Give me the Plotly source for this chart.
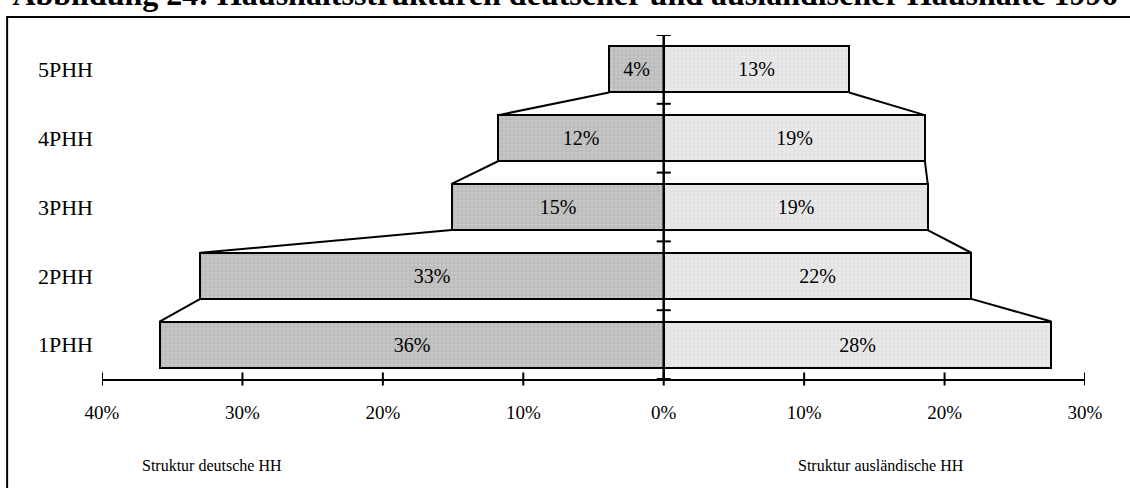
import plotly.graph_objects as go

# Household structure by household size (share of households, %)
categories = ["1PHH", "2PHH", "3PHH", "4PHH", "5PHH"]
deutsche = [35.9, 33.0, 15.1, 11.8, 3.9]        # German households
auslaendische = [27.6, 21.9, 18.8, 18.6, 13.2]  # foreign households

tick_vals = [-40, -30, -20, -10, 0, 10, 20, 30]
tick_text = ["40%", "30%", "20%", "10%", "0%", "10%", "20%", "30%"]

title_text = "Abbildung 24: Haushaltsstrukturen deutscher und ausländischer Haushalte 1996"
label_left = "Struktur deutsche HH"
label_right = "Struktur ausländische HH"

FONT = "Liberation Serif, Times New Roman, serif"
BAR_W = 0.67
pos = list(range(len(categories)))

fig = go.Figure()

fig.add_trace(go.Bar(
    y=pos, x=[-v for v in deutsche], orientation="h", width=BAR_W,
    marker=dict(color="#bdbdbd", line=dict(color="black", width=2),
                pattern=dict(shape=".", fgcolor="#d6d6d6", bgcolor="#bdbdbd",
                             size=4, solidity=0.25)),
    text=[f"{v:.0f}%" for v in deutsche], textposition="inside",
    insidetextanchor="middle", textangle=0,
    textfont=dict(family=FONT, size=20, color="black"),
    hoverinfo="skip", showlegend=False,
))
fig.add_trace(go.Bar(
    y=pos, x=auslaendische, orientation="h", width=BAR_W,
    marker=dict(color="#e6e6e6", line=dict(color="black", width=2),
                pattern=dict(shape=".", fgcolor="#f2f2f2", bgcolor="#e4e4e4",
                             size=4, solidity=0.25)),
    text=[f"{v:.0f}%" for v in auslaendische], textposition="inside",
    insidetextanchor="middle", textangle=0,
    textfont=dict(family=FONT, size=20, color="black"),
    hoverinfo="skip", showlegend=False,
))

# Series lines joining the bar ends of neighbouring categories
def connector(values, sign):
    xs, ys = [], []
    for k in range(1, len(values)):
        xs += [sign * values[k], sign * values[k - 1], None]
        ys += [k - BAR_W / 2, k - 1 + BAR_W / 2, None]
    return xs, ys

for vals, sgn in ((deutsche, -1), (auslaendische, 1)):
    cx, cy = connector(vals, sgn)
    fig.add_trace(go.Scatter(x=cx, y=cy, mode="lines",
                             line=dict(color="black", width=2),
                             hoverinfo="skip", showlegend=False))

shapes = []
# vertical axis at 0 with cross ticks at the category boundaries
shapes.append(dict(type="line", xref="x", yref="y", x0=0, x1=0,
                   y0=-0.5, y1=len(categories) - 0.5,
                   line=dict(color="black", width=2.5), layer="above"))
for k in range(len(categories) + 1):
    shapes.append(dict(type="line", xref="x", yref="y", x0=-0.5, x1=0.5,
                       y0=k - 0.5, y1=k - 0.5,
                       line=dict(color="black", width=2), layer="above"))
# cross ticks on the value axis
for tv in tick_vals:
    shapes.append(dict(type="line", xref="x", yref="paper", x0=tv, x1=tv,
                       y0=-0.019, y1=0.019,
                       line=dict(color="black", width=2), layer="above"))
# chart frame
shapes.append(dict(type="rect", xref="paper", yref="paper",
                   x0=-0.0965, x1=1.2, y0=-0.5, y1=1.052,
                   line=dict(color="black", width=2), layer="below"))

annotations = [
    dict(text=label_left, xref="x", yref="paper", x=-32.2, y=-0.25,
         showarrow=False, font=dict(family=FONT, size=16, color="black"),
         xanchor="center", yanchor="middle"),
    dict(text=label_right, xref="x", yref="paper", x=15.5, y=-0.25,
         showarrow=False, font=dict(family=FONT, size=16, color="black"),
         xanchor="center", yanchor="middle"),
]

fig.update_layout(
    width=1130, height=488,
    margin=dict(l=102, r=45, t=35, b=109),
    paper_bgcolor="white", plot_bgcolor="white",
    barmode="overlay", bargap=0,
    title=dict(text=f"<b>{title_text}</b>", x=0.5, xanchor="center",
               xref="container", y=(488 - 5) / 488, yref="container",
               yanchor="bottom",
               font=dict(family=FONT, size=32, color="black")),
    xaxis=dict(range=[-40, 30], tickvals=tick_vals, ticktext=tick_text,
               showgrid=False, zeroline=False, showline=True,
               linecolor="black", linewidth=2, ticks="",
               ticklabelstandoff=15,
               tickfont=dict(family=FONT, size=19, color="black")),
    yaxis=dict(range=[-0.5, len(categories) - 0.5], tickvals=pos,
               ticktext=categories, showgrid=False, zeroline=False,
               showline=False, ticks="", ticklabelstandoff=8,
               tickfont=dict(family=FONT, size=22, color="black")),
    shapes=shapes, annotations=annotations,
)

fig.write_html("out.html")
